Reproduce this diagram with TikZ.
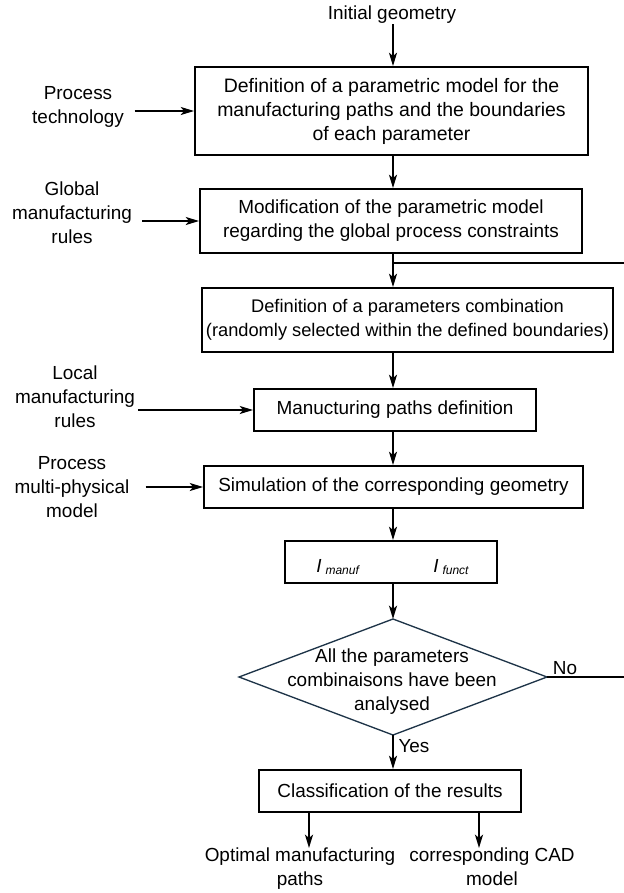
\documentclass[tikz,border=0pt]{standalone}
\usepackage{fontspec}
\setmainfont{Liberation Sans}
\usetikzlibrary{arrows.meta}
\definecolor{dia}{RGB}{30,52,72}
\begin{document}
\begin{tikzpicture}[x=0.75pt,y=-0.75pt,
  every node/.style={font=\fontsize{14.2}{18}\selectfont, inner sep=0pt},
  box/.style={draw, line width=1.4pt, align=center},
  lab/.style={align=center},
  arr/.style={line width=1.4pt, -{Stealth[length=10pt,width=6pt,inset=2.5pt]}},
  ln/.style={line width=1.4pt}]
\useasboundingbox (0,0) rectangle (624,893);
\coordinate (spine) at (393,0);

% main column
\node[lab] (init) at (392,15) {Initial geometry};
\node[box, minimum width=393*0.75pt, minimum height=88*0.75pt, font=\fontsize{14.6}{18}\selectfont] (b1) at (391.5,111)
  {Definition of a parametric model for the\\manufacturing paths and the boundaries\\of each parameter};
\node[box, minimum width=382*0.75pt, minimum height=64*0.75pt] (b2) at (391,221)
  {Modification of the parametric model\\regarding the global process constraints};
\node[box, minimum width=411*0.75pt, minimum height=64*0.75pt, font=\fontsize{13.7}{18}\selectfont] (b3) at (407.5,320)
  {Definition of a parameters combination\\(randomly selected within the defined boundaries)};
\node[box, minimum width=282*0.75pt, minimum height=42*0.75pt] (b4) at (395,410)
  {Manucturing paths definition};
\node[box, minimum width=379*0.75pt, minimum height=42*0.75pt] (b5) at (393.5,487)
  {Simulation of the corresponding geometry};
\node[box, minimum width=212*0.75pt, minimum height=42*0.75pt] (b6) at (391,562) {};
\node[anchor=base west] (im) at (316,572) {\itshape I\hspace{3pt}\raisebox{-1.5pt}{\fontsize{9}{10}\selectfont manuf}};
\node[anchor=base west] (ifn) at (433,572) {\itshape I\hspace{3pt}\raisebox{-1.5pt}{\fontsize{9}{10}\selectfont funct}};

% decision
\coordinate (dtop) at (393,619);
\coordinate (dright) at (547,677);
\coordinate (dbot) at (393,735);
\coordinate (dleft) at (239,677);
\draw[line width=1pt, draw=dia] (dtop) -- (dright) -- (dbot) -- (dleft) -- cycle;
\node[lab] (dtext) at (392,682) {All the parameters\\combinaisons have been\\analysed};
\node (no) at (565,668) {No};
\node (yes) at (414,746) {Yes};

\node[box, minimum width=262*0.75pt, minimum height=42*0.75pt] (b7) at (390,791)
  {Classification of the results};

% outputs
\node[lab, anchor=north] (out1) at (300,848) {Optimal manufacturing\\paths};
\node[lab, anchor=north] (out2) at (492,848) {corresponding CAD\\model};

% inputs on the left
\node[lab] (pt) at (78,107) {Process\\technology};
\node[lab] (gm) at (72,213) {Global\\manufacturing\\rules};
\node[lab] (lm) at (75,397) {Local\\manufacturing\\rules};
\node[lab] (pm) at (72,487) {Process\\multi-physical\\model};

\coordinate (ptA) at ([xshift=8pt]pt.east);
\coordinate (gmA) at ([xshift=7.5pt]gm.east);
\coordinate (lmA) at ([xshift=2pt]lm.east);
\coordinate (pmA) at ([xshift=12pt]pm.east);

% right-side feedback stubs
\coordinate (brR) at (624,263);
\coordinate (noR) at (624,677);
\coordinate (br) at (393,263);

% connectors
\draw[arr] (spine |- init.south) -- (spine |- b1.north);
\draw[arr] (spine |- b1.south) -- (spine |- b2.north);
\draw[arr] (spine |- b2.south) -- (spine |- b3.north);
\draw[ln] (br) -- (brR);
\draw[arr] (spine |- b3.south) -- (spine |- b4.north);
\draw[arr] (spine |- b4.south) -- (spine |- b5.north);
\draw[arr] (spine |- b5.south) -- (spine |- b6.north);
\draw[arr] (spine |- b6.south) -- (dtop);
\draw[ln] (dright) -- (noR);
\draw[arr] (dbot) -- (spine |- b7.north);

\draw[arr] (ptA |- b1.west) -- (b1.west);
\draw[arr] (gmA |- b2.west) -- (b2.west);
\draw[arr] (lmA |- b4.west) -- (b4.west);
\draw[arr] (pmA |- b5.west) -- (b5.west);

\coordinate (o1) at (309,0);
\coordinate (o2) at (479,0);
\draw[arr] (o1 |- b7.south) -- (o1 |- out1.north);
\draw[arr] (o2 |- b7.south) -- (o2 |- out2.north);
\end{tikzpicture}
\end{document}
